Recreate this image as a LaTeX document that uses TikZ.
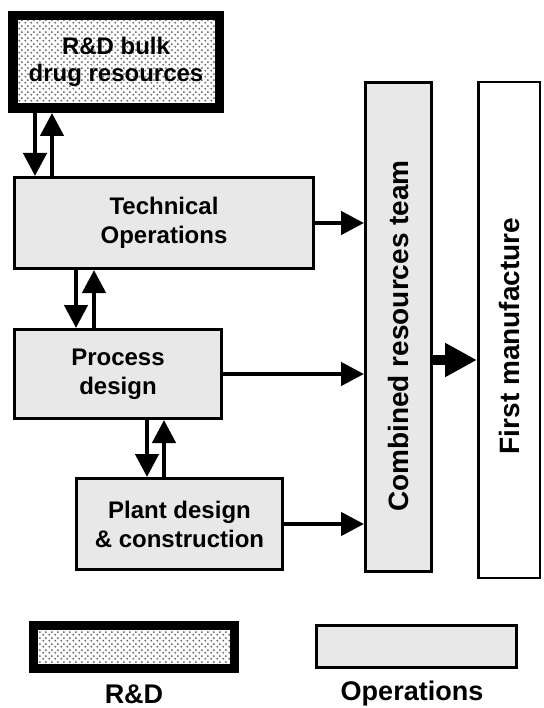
\documentclass[tikz,border=0pt]{standalone}
\usepackage{fontspec}
\setmainfont{Liberation Sans}
\usetikzlibrary{arrows.meta,patterns.meta}
\definecolor{opsgray}{rgb}{0.91,0.91,0.91}
\definecolor{dotgray}{rgb}{0.45,0.45,0.45}
\tikzdeclarepattern{
  name=rddots,
  type=uncolored,
  bottom left={(0pt,0pt)},
  top right={(6pt,6pt)},
  tile size={(6pt,6pt)},
  code={
    \fill (1.5pt,1.5pt) circle (1.25pt);
    \fill (4.5pt,4.5pt) circle (1.25pt);
  }
}
\begin{document}
\begin{tikzpicture}[x=1pt,y=-1pt,
  rdbox/.style={draw=black, line width=9.5pt, preaction={fill=white},
    pattern=rddots, pattern color=dotgray, inner sep=0pt, align=center},
  opbox/.style={draw=black, line width=3pt, fill=opsgray, inner sep=0pt, align=center},
  arr/.style={line width=4.5pt, -{Triangle[length=23pt,width=23pt]}},
  bigarr/.style={line width=10pt, -{Triangle[length=32pt,width=32pt]}},
  boxtext/.style={font=\fontsize{24}{29}\selectfont\bfseries},
  vtext/.style={font=\fontsize{28}{32}\selectfont\bfseries},
  legtext/.style={font=\fontsize{27}{30}\selectfont\bfseries, anchor=base, inner sep=0pt}
]
\useasboundingbox (0,0) rectangle (543,708);

% boxes
\node[rdbox, minimum width=206.5pt, minimum height=92.5pt,
      font=\fontsize{24}{27}\selectfont\bfseries] (rd) at (116,62) {R\&D bulk\\drug resources};
\node[opbox, boxtext, minimum width=299pt, minimum height=91pt] (tech) at (164,223) {Technical\\Operations};
\node[opbox, boxtext, minimum width=207pt, minimum height=89pt] (proc) at (118,374) {Process\\design};
\node[opbox, boxtext, minimum width=206pt, minimum height=91pt] (plant) at (179.5,524) {Plant design\\\& construction};
\node[opbox, vtext, minimum width=66pt, minimum height=489pt] (comb) at (398.5,327)
  {\rotatebox{90}{Combined resources team\hspace*{18pt}}};
\node[opbox, vtext, fill=white, line width=2.5pt, minimum width=61.5pt, minimum height=495.5pt] (first) at (509,330)
  {\rotatebox{90}{First manufacture\hspace*{12pt}}};

% vertical arrow pairs
\coordinate (a1) at ([xshift=27pt]rd.south west);
\coordinate (a2) at ([xshift=44pt]rd.south west);
\draw[arr] (a1) -- (a1 |- tech.north);
\draw[arr] (a2 |- tech.north) -- (a2);

\coordinate (a3) at ([xshift=63pt]tech.south west);
\coordinate (a4) at ([xshift=81pt]tech.south west);
\draw[arr] (a3) -- (a3 |- proc.north);
\draw[arr] (a4 |- proc.north) -- (a4);

\coordinate (a5) at ([xshift=134pt]proc.south west);
\coordinate (a6) at ([xshift=151pt]proc.south west);
\draw[arr] (a5) -- (a5 |- plant.north);
\draw[arr] (a6 |- plant.north) -- (a6);

% horizontal arrows
\draw[arr] (tech.east) -- (tech.east -| comb.west);
\draw[arr] (proc.east) -- (proc.east -| comb.west);
\draw[arr] (plant.east) -- (plant.east -| comb.west);
\coordinate (b1) at ([yshift=-33pt]comb.east);
\draw[bigarr] (b1) -- (b1 -| first.west);

% legend
\node[rdbox, line width=9pt, minimum width=201pt, minimum height=43pt] (legrd) at (134,647) {};
\node[opbox, minimum width=200pt, minimum height=42pt] (legop) at (416.5,646.5) {};
\node[legtext] (legrdlabel) at (134,703) {R\&D};
\node[legtext] (legoplabel) at (412,700) {Operations};
\end{tikzpicture}
\end{document}
